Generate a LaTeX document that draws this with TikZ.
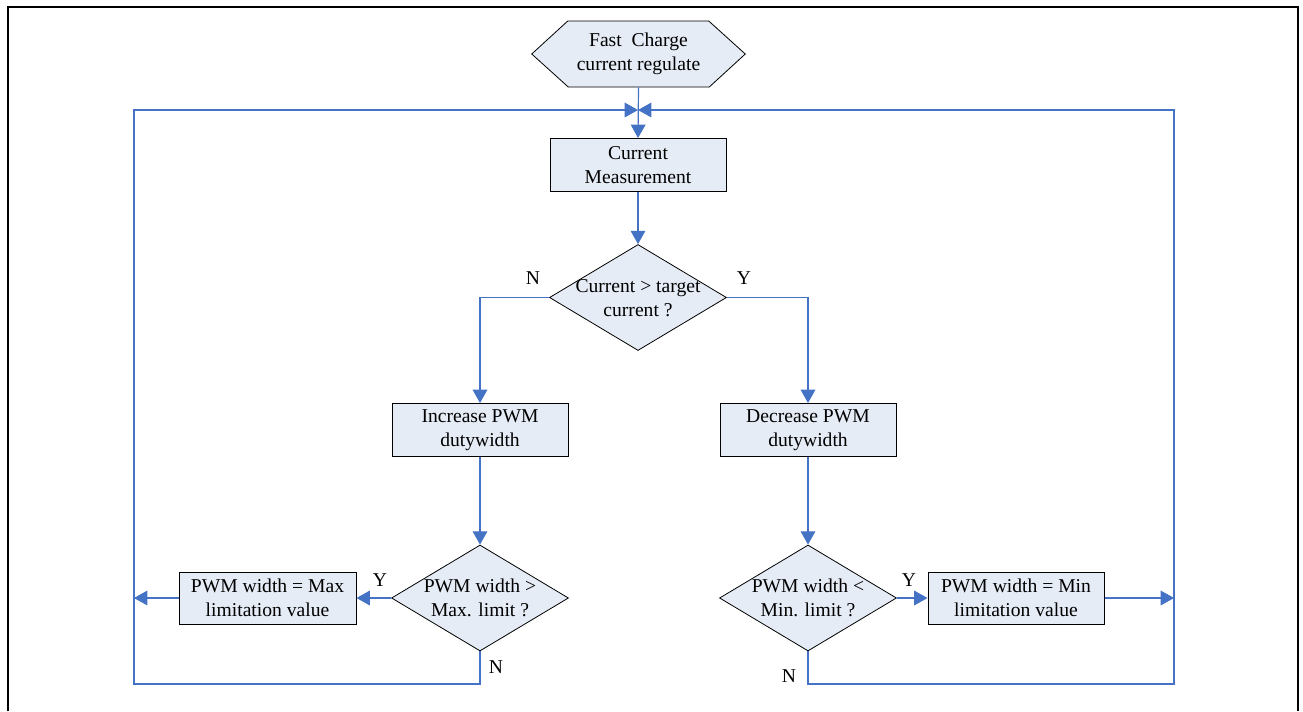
\documentclass[tikz,border=0pt]{standalone}
\usepackage{fontspec}
\setmainfont{Liberation Serif}
\usetikzlibrary{shapes.geometric,arrows.meta}
\definecolor{fillc}{RGB}{230,236,246}
\definecolor{linec}{RGB}{68,114,196}
\newcommand{\pxu}{pt*0.75}
\tikzset{
  txt/.style={font=\fontsize{14.7}{18}\selectfont, align=center, inner sep=0pt},
  box/.style={txt, draw=black, fill=fillc, line width=0.75pt, minimum width=176\pxu, minimum height=53\pxu},
  dia/.style={shape=diamond, draw=black, fill=fillc, line width=0.6pt, inner sep=0pt, minimum width=177\pxu, minimum height=106\pxu},
  conn/.style={draw=linec, line width=0.9pt},
  arr/.style={conn, -{Triangle[length=10pt,width=11pt]}},
  lbl/.style={txt},
}
\begin{document}
\begin{tikzpicture}[x=0.75pt,y=-0.75pt]
\useasboundingbox (0,0) rectangle (1303,711);
% frame
\draw[line width=1.8pt] (8,711) -- (8,7) -- (1298,7) -- (1298,711);
% start hexagon
\node[txt, minimum width=213*0.75pt, minimum height=66*0.75pt] (start) at (638.5,54) {};
\draw[line width=0.6pt, fill=fillc] (start.west) -- ++(36,-33) -- ++(141,0) -- (start.east) -- ++(-36,33) -- ++(-141,0) -- cycle;
\node[txt] (startt) at (start) {Fast\ \ Charge\\current regulate};
% boxes
\node[box] (cm) at (638,165) {Current\\Measurement};
\node[dia] (d1) at (638,297.5) {};
\node[txt] (d1t) at (638,298) {Current > target\\current ?};
\node[box] (inc) at (480,430) {Increase PWM\\dutywidth};
\node[box] (dec) at (808,430) {Decrease PWM\\dutywidth};
\node[dia] (d2) at (480,598) {};
\node[txt] (d2t) at (480,598) {PWM width >\\Max. limit ?};
\node[dia] (d3) at (808,598) {};
\node[txt] (d3t) at (808,598) {PWM width <\\Min. limit ?};
\node[box, minimum width=177*0.75pt, minimum height=52*0.75pt] (maxb) at (267.5,598) {PWM width = Max\\limitation value};
\node[box, minimum height=52*0.75pt] (minb) at (1016,598) {PWM width = Min\\limitation value};
% labels
\node[lbl] (n1) at (533,278) {N};
\node[lbl] (y1) at (744,278) {Y};
\node[lbl] (y2) at (380,580) {Y};
\node[lbl] (n2) at (496,667) {N};
\node[lbl] (y3) at (909,580) {Y};
\node[lbl] (n3) at (789,676) {N};
% coordinates
\coordinate (m) at (638,110);
\coordinate (lb) at (134,684);
\coordinate (rb) at (1174,684);
% connectors
\draw[arr] (start.south) -- (cm.north);
\draw[arr] (cm.south) -- (d1.north);
\draw[arr] (d1.west) -| (inc.north);
\draw[arr] (d1.east) -| (dec.north);
\draw[arr] (inc.south) -- (d2.north);
\draw[arr] (dec.south) -- (d3.north);
\draw[arr] (d2.west) -- (maxb.east);
\draw[arr] (d3.east) -- (minb.west);
\draw[arr] (maxb.west) -- (maxb.west -| lb);
\draw[arr] (minb.east) -- (minb.east -| rb);
\draw[arr] (d2.south) |- (lb) |- (m);
\draw[arr] (d3.south) |- (rb) |- (m);
\end{tikzpicture}
\end{document}
